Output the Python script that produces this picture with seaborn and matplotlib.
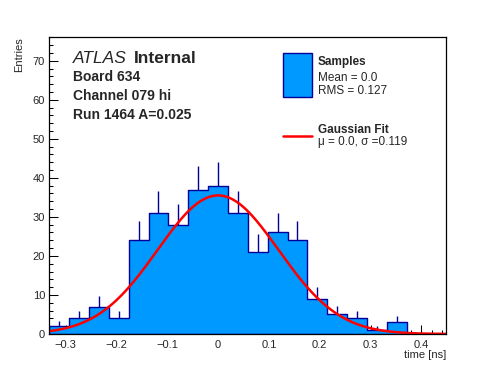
"""
plot.py
=======
Timing distribution for one channel: histogram of samples with Poisson
error bars and the Gaussian fit overlaid (ROOT / ATLAS-style look).
"""

import numpy as np
import pandas as pd
import matplotlib
matplotlib.use("Agg")
import matplotlib.pyplot as plt
from matplotlib.patches import Rectangle
from matplotlib.lines import Line2D
from matplotlib.ticker import MultipleLocator, FuncFormatter
import seaborn as sns

# ─── DATA ────────────────────────────────────────────────────────────────────
HIST_RANGE = (-0.332, 0.449)          # time [ns]
N_BINS     = 20
COUNTS     = [2, 4, 7, 4, 24, 31, 28, 37, 38, 31,
              21, 26, 24, 9, 5, 4, 1, 3, 0, 0]

FIT_AMP    = 35.5
FIT_MU     = 0.0
FIT_SIGMA  = 0.119

INFO_LINES   = ["Board 634", "Channel 079 hi", "Run 1464 A=0.025"]
SAMPLE_STATS = ["Mean = 0.0", "RMS = 0.127"]
FIT_LABEL    = "\u03bc = 0.0, \u03c3 =0.119"

# ─── STYLE ───────────────────────────────────────────────────────────────────
FILL_COLOR = "#0099FF"
LINE_COLOR = "#000099"
FIT_COLOR  = "#FF0000"
W, H = 496, 372

sns.set_style("ticks")
plt.rcParams["font.family"] = ["Liberation Sans", "DejaVu Sans"]


def fx(px):
    return px / W


def fy(py):
    return 1 - py / H


edges = np.linspace(HIST_RANGE[0], HIST_RANGE[1], N_BINS + 1)
centers = 0.5 * (edges[:-1] + edges[1:])
df = pd.DataFrame({"time": centers, "entries": COUNTS})

fig = plt.figure(figsize=(W / 100, H / 100), dpi=100)
ax = fig.add_axes([fx(49.3), 1 - 334 / H, (446.3 - 49.3) / W, (334 - 37.3) / H])

sns.histplot(data=df, x="time", weights="entries", bins=N_BINS,
             binrange=HIST_RANGE, element="step", fill=True,
             color=FILL_COLOR, edgecolor=LINE_COLOR, alpha=1,
             linewidth=1.0, ax=ax)

# upper half of the Poisson error bars (lower half hidden by the fill)
nz = df[df["entries"] > 0]
ax.vlines(nz["time"], nz["entries"], nz["entries"] + np.sqrt(nz["entries"]),
          color=LINE_COLOR, linewidth=1.0, zorder=3)

# Gaussian fit curve
xs = np.linspace(HIST_RANGE[0], HIST_RANGE[1], 400)
fit_df = pd.DataFrame({"time": xs,
                       "fit": FIT_AMP * np.exp(-0.5 * ((xs - FIT_MU) / FIT_SIGMA) ** 2)})
sns.lineplot(data=fit_df, x="time", y="fit", color=FIT_COLOR, linewidth=1.8,
             ax=ax, zorder=4)

ax.set_xlim(*HIST_RANGE)
ax.set_ylim(0, 76)
ax.set_xlabel("")
ax.set_ylabel("")
ax.xaxis.set_major_locator(MultipleLocator(0.1))
ax.xaxis.set_minor_locator(MultipleLocator(0.02))
ax.yaxis.set_major_locator(MultipleLocator(10))
ax.yaxis.set_minor_locator(MultipleLocator(2))
ax.xaxis.set_major_formatter(FuncFormatter(
    lambda v, _: "0" if abs(v) < 1e-9 else f"{v:.1f}".replace("-", "\u2212")))
ax.tick_params(which="both", direction="in", top=False, right=False,
               width=0.75, labelsize=8, color="black")
ax.tick_params(which="major", length=6.5)
ax.tick_params(which="minor", length=3.2)
ax.tick_params(axis="x", pad=4)
ax.tick_params(axis="y", pad=3)
for sp in ax.spines.values():
    sp.set_visible(True)
    sp.set_linewidth(0.9)
    sp.set_color("black")
    sp.set_zorder(5)

# axis titles, ROOT style
fig.text(fx(19), fy(37), "Entries", rotation=90, ha="center", va="top", fontsize=8)
fig.text(fx(446), fy(355), "time [ns]", ha="right", va="center", fontsize=8)

# ATLAS label and run info
fig.text(fx(73.3), fy(63.3), "ATLAS", style="italic", fontsize=12.5, va="baseline")
fig.text(fx(134.3), fy(63.3), "Internal", weight="bold", fontsize=12.5, va="baseline")
for i, line in enumerate(INFO_LINES):
    fig.text(fx(73.3), fy(80.7 + i * 19.2), line, weight="bold", fontsize=10,
             va="baseline")

# hand-drawn legend
fig.patches.append(Rectangle((fx(283.3), fy(96.7)), (311.7 - 283.3) / W,
                             (96.7 - 53.3) / H, transform=fig.transFigure,
                             facecolor=FILL_COLOR, edgecolor=LINE_COLOR,
                             linewidth=1.0))
fig.lines.append(Line2D([fx(283.3), fx(311.7)], [fy(136), fy(136)],
                        transform=fig.transFigure, color=FIT_COLOR, linewidth=1.8))
fig.text(fx(317.7), fy(65), "Samples", weight="bold", fontsize=8.5, va="baseline")
for i, line in enumerate(SAMPLE_STATS):
    fig.text(fx(317.7), fy(80.7 + i * 13.3), line, fontsize=8.5, va="baseline")
fig.text(fx(317.7), fy(133.3), "Gaussian Fit", weight="bold", fontsize=8.5,
         va="baseline")
fig.text(fx(317.7), fy(145), FIT_LABEL, fontsize=8.5, va="baseline")

fig.savefig("out.png", dpi=100)
plt.close(fig)
